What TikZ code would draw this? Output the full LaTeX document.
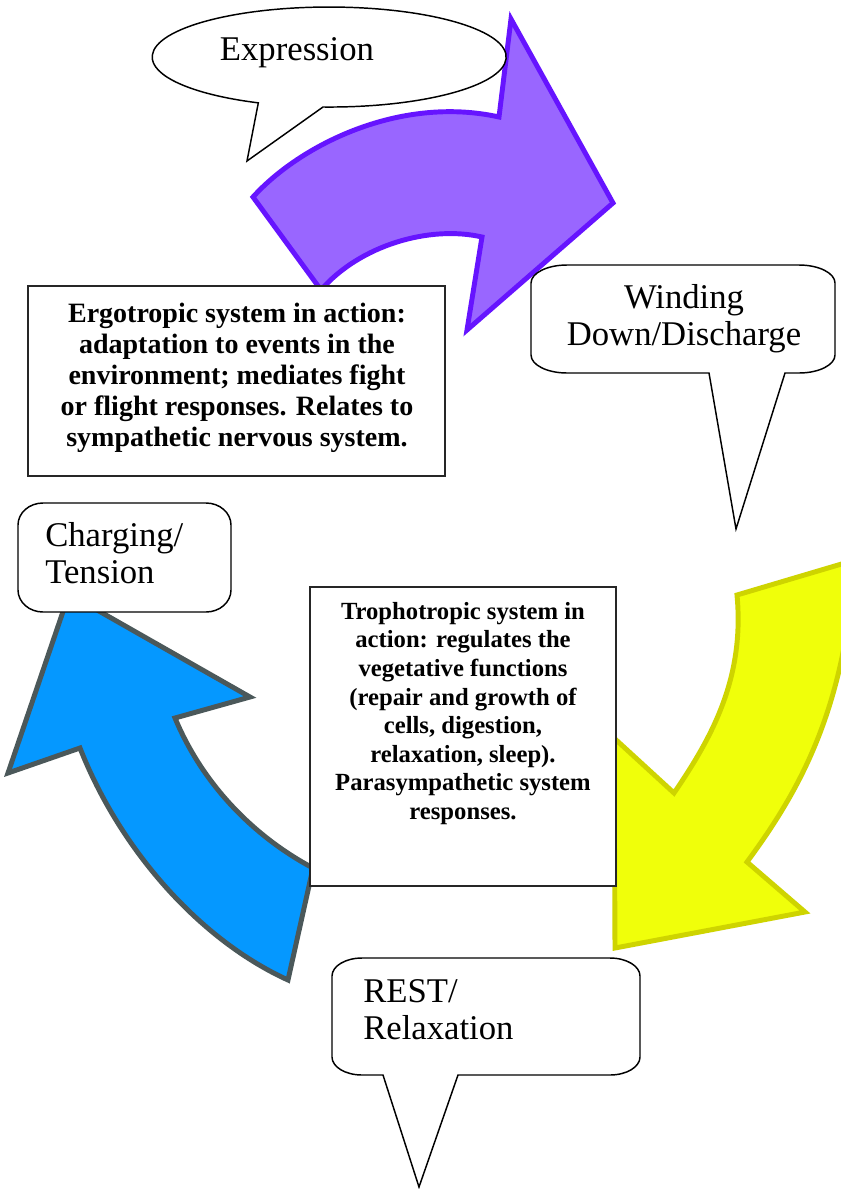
\documentclass[tikz,border=0pt]{standalone}
\usepackage{fontspec}
\setmainfont{Liberation Serif}

\definecolor{purplefill}{RGB}{153,102,255}
\definecolor{purpleline}{RGB}{102,20,255}
\definecolor{bluefill}{RGB}{5,152,255}
\definecolor{blueline}{RGB}{75,88,90}
\definecolor{yellowfill}{RGB}{240,255,10}
\definecolor{yellowline}{RGB}{206,212,0}

% Rounded speech box with elliptical corners.
% #1 style, #2 x0, #3 y0, #4 x1, #5 y1, #6 corner x radius, #7 corner y radius,
% #8 extra path pieces on the bottom edge (tail), drawn right to left
\newcommand\calloutbox[8]{%
  \draw[#1] ({#2+#6},#3) -- ({#4-#6},#3)
    .. controls ({#4-0.448*#6},#3) and (#4,{#3+0.448*#7}) .. (#4,{#3+#7})
    -- (#4,{#5-#7})
    .. controls (#4,{#5-0.448*#7}) and ({#4-0.448*#6},#5) .. ({#4-#6},#5)
    #8
    -- ({#2+#6},#5)
    .. controls ({#2+0.448*#6},#5) and (#2,{#5-0.448*#7}) .. (#2,{#5-#7})
    -- (#2,{#3+#7})
    .. controls (#2,{#3+0.448*#7}) and ({#2+0.448*#6},#3) .. ({#2+#6},#3)
    -- cycle;}

\begin{document}
\begin{tikzpicture}[x=0.75pt,y=-0.75pt,
  bubble/.style={draw=black,fill=white,line width=1.1pt,line join=miter},
  infobox/.style={draw=black!85,fill=white,line width=1pt},
  purplearrow/.style={fill=purplefill,draw=purpleline,line width=3.7pt,line join=miter},
  bluearrow/.style={fill=bluefill,draw=blueline,line width=3.7pt,line join=miter},
  yellowarrow/.style={fill=yellowfill,draw=yellowline,line width=3.7pt,line join=miter},
  label/.style={inner sep=0pt,font=\fontsize{26}{27.5}\selectfont},
  boldtext/.style={inner sep=0pt,align=center}]

\useasboundingbox (0,0) rectangle (841,1189);
\fill[white] (0,0) rectangle (841,1189);

% upper arrow (purple), curving to the right
\draw[purplearrow] (253,197) .. controls (300,145) and (400,95) .. (499,117)
  -- (511,19) -- (613,203) -- (467,330) -- (482,237)
  .. controls (430,225) and (360,245) .. (321,290) -- cycle;

% oval bubble
\draw[bubble] (323,107) arc[start angle=92, end angle=-246.4, x radius=177, y radius=50]
  -- (247,161) -- cycle;
\node[label,anchor=base] (expr) at (297,60) {Expression};

% right bubble
\calloutbox{bubble}{531}{265}{835}{373}{36}{18}{-- (785,373) -- (736,529) -- (709,373)}
\node[label,anchor=base,align=center] (wind) at (684,345) {Winding\\Down/Discharge};

% ergotropic text box
\draw[infobox] (28,286) rectangle (445,476);
\node[boldtext,anchor=base,font=\bfseries\fontsize{21}{23.25}\selectfont] (ergo) at (237,446.7)
  {Ergotropic system in action:\\adaptation to events in the\\environment; mediates fight\\or flight responses. Relates to\\sympathetic nervous system.};

% left arrow (blue), pointing up
\draw[bluearrow] (69,594) -- (8,773) -- (80,748)
  .. controls (120,850) and (200,940) .. (288,980) -- (313,868)
  .. controls (260,840) and (205,790) .. (175,718) -- (250,697) -- cycle;

% left bubble
\calloutbox{bubble}{18}{503}{231}{612}{25}{22}{}
\node[label,anchor=base west,align=left] (charge) at (45,583) {Charging/\\Tension};

% right arrow (yellow), pointing down
\draw[yellowarrow] (737,595) -- (855,560)
  .. controls (845,710) and (800,790) .. (747,862)
  -- (805,912) -- (615,948) -- (614,738) -- (674,793)
  .. controls (710,740) and (745,680) .. (737,595) -- cycle;

% trophotropic text box
\draw[infobox] (310,587) rectangle (616,886);
\node[boldtext,anchor=base,font=\bfseries\fontsize{18.5}{21.43}\selectfont] (tropho) at (463,819.3)
  {Trophotropic system in\\action: regulates the\\vegetative functions\\(repair and growth of\\cells, digestion,\\relaxation, sleep).\\Parasympathetic system\\responses.};

% bottom bubble
\calloutbox{bubble}{332}{958}{640}{1075}{30}{18}{-- (458,1075) -- (419,1187) -- (383,1075)}
\node[label,anchor=base west,align=left] (rest) at (363,1039) {REST/\\Relaxation};

\end{tikzpicture}
\end{document}
